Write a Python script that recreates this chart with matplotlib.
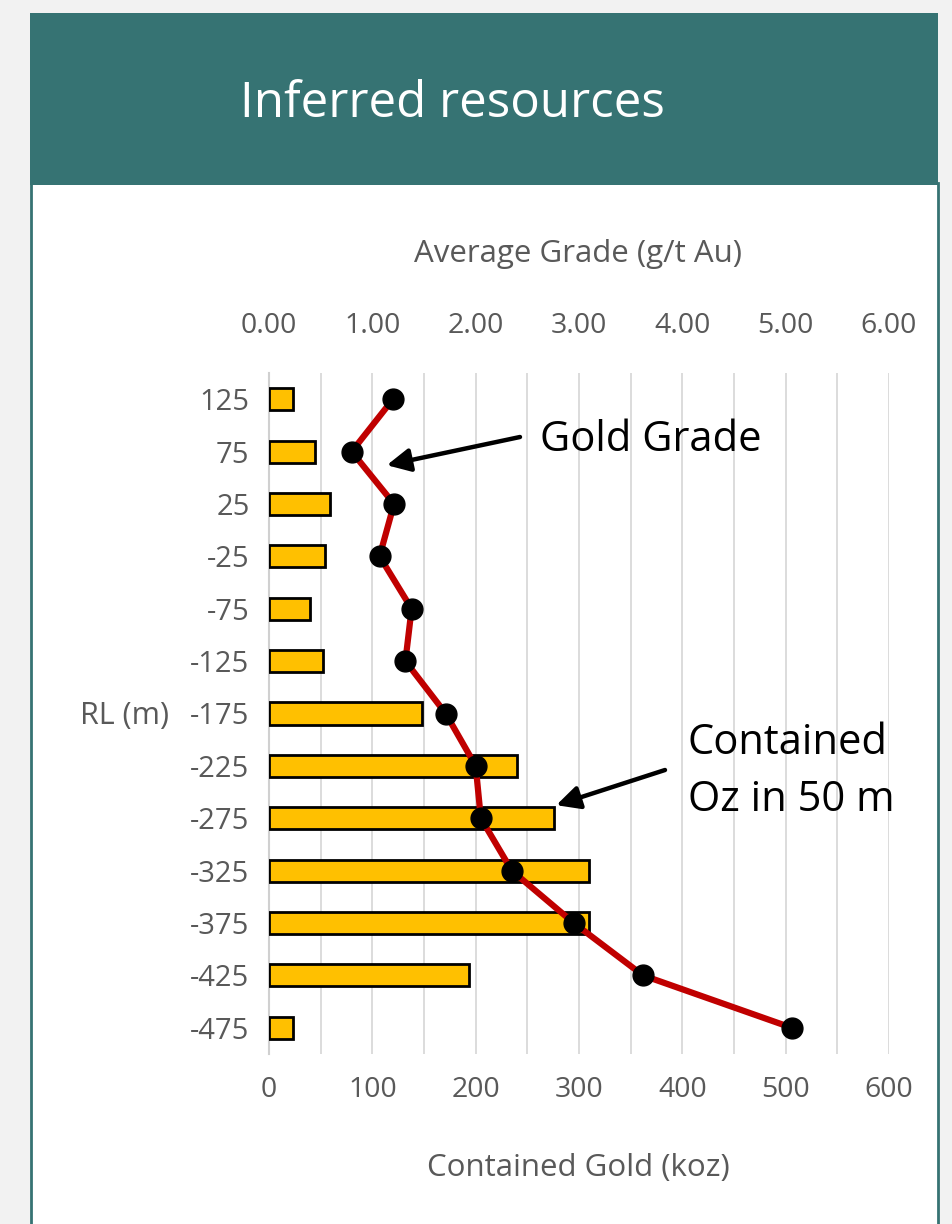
import matplotlib
matplotlib.use("Agg")
import matplotlib.pyplot as plt
import numpy as np
from matplotlib.patches import Rectangle

# RL bins (m) and resource figures per 50 m slice
rl_labels = ["125", "75", "25", "-25", "-75", "-125", "-175",
             "-225", "-275", "-325", "-375", "-425", "-475"]
contained_koz = [23, 45, 59, 54, 40, 52, 148, 240, 276, 310, 310, 194, 23]
grade_gpt = [1.20, 0.80, 1.21, 1.07, 1.38, 1.32, 1.71,
             2.00, 2.05, 2.35, 2.95, 3.62, 5.06]
koz_ticks = [0, 100, 200, 300, 400, 500, 600]
grade_ticks = [0, 1, 2, 3, 4, 5, 6]

W, H = 953, 1224
TEAL = "#367373"
GREY = "#595959"

plt.rcParams["font.family"] = ["Open Sans", "DejaVu Sans"]


def fx(x):
    return x / W


def fy(y):
    return 1 - y / H


def box(fig, x0, y0, x1, y1, **kw):
    fig.add_artist(Rectangle((fx(x0), fy(y1)), (x1 - x0) / W, (y1 - y0) / H,
                             transform=fig.transFigure, zorder=-5, **kw))


fig = plt.figure(figsize=(W / 100, H / 100), dpi=100, facecolor="#f2f2f2")

# white panel and teal header
box(fig, 31, 183, 938, 1240, facecolor="white", edgecolor=TEAL, lw=2)
box(fig, 30, 13, 938, 185, facecolor=TEAL, edgecolor="none")
fig.text(fx(452), fy(104), "Inferred resources", color="white",
         fontsize=35.5, ha="center", va="center")

ax = fig.add_axes([fx(269), fy(1054), 620 / W, 681 / H])
y = np.arange(len(rl_labels))
ax.barh(y, contained_koz, height=0.42, color="#ffc000",
        edgecolor="black", lw=2, zorder=3)
ax.set_xlim(0, 600)
ax.set_ylim(len(rl_labels) - 0.5, -0.5)
ax.set_xticks(koz_ticks)
ax.set_xticks(np.arange(0, 601, 50), minor=True)
ax.set_axisbelow(True)
ax.grid(axis="x", which="both", color="#d9d9d9", lw=1.3)
ax.set_yticks(y, rl_labels)
ax.tick_params(axis="x", which="both", length=0, pad=16, labelsize=20.5, labelcolor=GREY)
ax.tick_params(axis="y", length=0, pad=14, labelsize=21, labelcolor=GREY)
for s in ["top", "right", "bottom"]:
    ax.spines[s].set_visible(False)
ax.spines["left"].set_color("#d0d0d0")
ax.spines["left"].set_linewidth(1.5)

ax2 = ax.twiny()
ax2.plot(grade_gpt, y, color="#c00000", lw=4.5, marker="o", ms=15,
         mfc="black", mec="black", zorder=4)
ax2.set_xlim(0, 6)
ax2.set_xticks(grade_ticks, [f"{v:.2f}" for v in grade_ticks])
ax2.tick_params(axis="x", length=0, pad=24, labelsize=20.5, labelcolor=GREY)
for s in ax2.spines.values():
    s.set_visible(False)

fig.text(fx(578), fy(254), "Average Grade (g/t Au)", color=GREY,
         fontsize=22.5, ha="center", va="center")
fig.text(fx(578), fy(1168), "Contained Gold (koz)", color=GREY,
         fontsize=22.5, ha="center", va="center")
fig.text(fx(125), fy(716), "RL (m)", color=GREY,
         fontsize=22, ha="center", va="center")

# callouts
fig.text(fx(540), fy(440), "Gold Grade", color="black", fontsize=30,
         ha="left", va="center")
fig.text(fx(688), fy(743), "Contained", color="black", fontsize=30,
         ha="left", va="center")
fig.text(fx(688), fy(800), "Oz in 50 m", color="black", fontsize=30,
         ha="left", va="center")

arrow = dict(arrowstyle="-|>,head_length=0.7,head_width=0.35", color="black",
             lw=3.2, mutation_scale=20, shrinkA=0, shrinkB=0)
ax2.annotate("", xy=(1.14, 1.26), xycoords="data",
             xytext=(520, H - 437), textcoords="figure pixels",
             arrowprops=arrow, annotation_clip=False)
ax.annotate("", xy=(278, 7.75), xycoords="data",
            xytext=(665, H - 770), textcoords="figure pixels",
            arrowprops=arrow, annotation_clip=False)

fig.savefig("out.png", dpi=100, facecolor=fig.get_facecolor())
